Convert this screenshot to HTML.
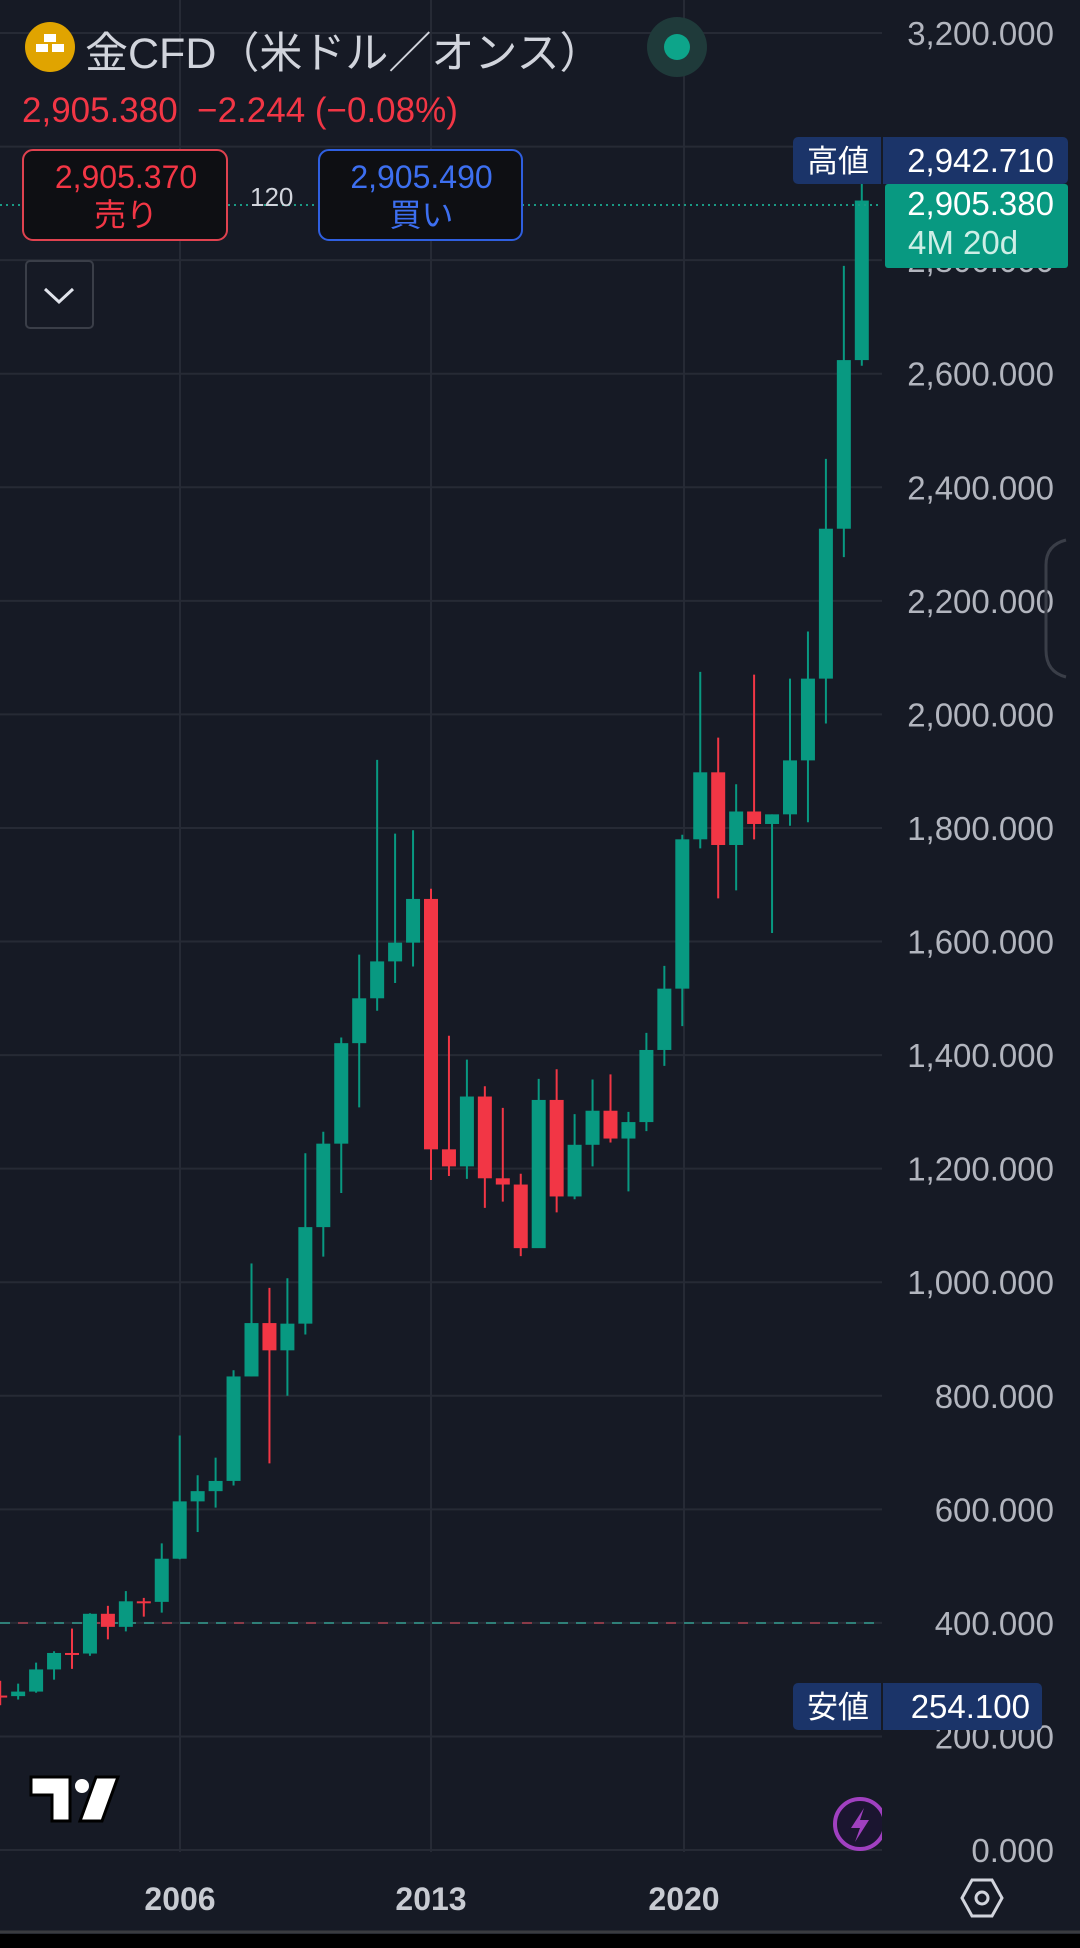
<!DOCTYPE html>
<html><head><meta charset="utf-8">
<style>
html,body{margin:0;padding:0;background:#161a25;}
body{width:1080px;height:1948px;position:relative;overflow:hidden;font-family:"Liberation Sans","Noto Sans CJK JP",sans-serif;}
.t{position:absolute;white-space:nowrap;}
</style></head>
<body>
<svg id="s" width="1080" height="1948" style="position:absolute;left:0;top:0">
<g id="grid" stroke="#262a35" stroke-width="2"></g>
<line x1="0" y1="1623" x2="882" y2="1623" stroke="#2f7f78" stroke-width="2" stroke-dasharray="10 8"/>
<line x1="0" y1="1623" x2="882" y2="1623" stroke="#8a3a48" stroke-width="2" stroke-dasharray="10 62" stroke-dashoffset="-18"/>
<g id="c"></g>
<line x1="0" y1="205" x2="882" y2="205" stroke="#1a9a85" stroke-width="2" stroke-dasharray="2 4"/>
<g id="ax" font-size="33" fill="#b2b5be" text-anchor="end" font-family="Liberation Sans, sans-serif"></g>
<rect x="793" y="137" width="275" height="47" rx="5" fill="#1b3469"/>
<rect x="881" y="137" width="2" height="47" fill="#161a25"/>
<text x="838" y="172" font-size="31" fill="#fff" text-anchor="middle" font-family="Liberation Sans, Noto Sans CJK JP, sans-serif">高値</text>
<text x="1054" y="172" font-size="33" fill="#fff" text-anchor="end" font-family="Liberation Sans, sans-serif">2,942.710</text>
<rect x="885" y="184" width="183" height="84" rx="3" fill="#089981"/>
<text x="1054" y="215" font-size="33" fill="#fff" text-anchor="end" font-family="Liberation Sans, sans-serif">2,905.380</text>
<text x="908" y="254" font-size="33" fill="#cdeee6" font-family="Liberation Sans, sans-serif">4M 20d</text>
<rect x="793" y="1683" width="249" height="47" rx="5" fill="#1b3469"/>
<rect x="881" y="1683" width="2" height="47" fill="#161a25"/>
<text x="838" y="1718" font-size="31" fill="#fff" text-anchor="middle" font-family="Liberation Sans, Noto Sans CJK JP, sans-serif">安値</text>
<text x="1030" y="1718" font-size="33" fill="#fff" text-anchor="end" font-family="Liberation Sans, sans-serif">254.100</text>
<path d="M1066 540 Q1046 545 1046 565 L1046 650 Q1046 672 1066 677" fill="none" stroke="#3a3e48" stroke-width="3"/>
<circle cx="677" cy="47" r="30" fill="#1f3a3a"/>
<circle cx="677" cy="47" r="13" fill="#0da58a"/>
<circle cx="50" cy="47" r="25" fill="#e0a400"/>
<rect x="44" y="34" width="12" height="8" fill="#fff"/>
<rect x="36" y="44" width="12" height="8" fill="#fff"/>
<rect x="52" y="44" width="12" height="8" fill="#fff"/>
<rect x="23" y="150" width="204" height="90" rx="10" fill="#0e0f13" stroke="#e0424f" stroke-width="2"/>
<rect x="319" y="150" width="203" height="90" rx="10" fill="#0e0f13" stroke="#2f5fe0" stroke-width="2"/>
<rect x="26" y="261" width="67" height="67" rx="4" fill="none" stroke="#3a3e48" stroke-width="2"/>
<path d="M45 289 L59 302 L73 289" fill="none" stroke="#e0e3eb" stroke-width="3"/>
<path d="M31 1777 H70 V1821 H52 V1795 H31 Z" fill="#fff" stroke="#000" stroke-width="3"/>
<circle cx="82" cy="1786" r="7" fill="#fff"/>
<path d="M96 1777 H118 L102 1821 H80 Z" fill="#fff" stroke="#000" stroke-width="3"/>
<clipPath id="cp"><rect x="0" y="0" width="882" height="1852"/></clipPath>
<g clip-path="url(#cp)">
<circle cx="860" cy="1824" r="25" fill="#1b1530" stroke="#a040c0" stroke-width="4"/>
<path d="M864 1808 L851 1828 H860 L855 1842 L869 1820 H860 Z" fill="#a040c0"/>
</g>
<path d="M972 1880 H992 L1002 1898 L992 1916 H972 L962 1898 Z" fill="none" stroke="#d1d4dc" stroke-width="3"/>
<circle cx="982" cy="1898" r="6" fill="none" stroke="#d1d4dc" stroke-width="3"/>
<line x1="0" y1="1932" x2="1080" y2="1932" stroke="#3a3c40" stroke-width="3"/>
<rect x="0" y="1934" width="1080" height="14" fill="#000"/>
<g font-size="32" fill="#c8cbd2" text-anchor="middle" font-family="Liberation Sans, sans-serif" font-weight="bold">
<text x="180" y="1910">2006</text><text x="431" y="1910">2013</text><text x="684" y="1910">2020</text>
</g>
</svg>
<div class="t" style="left:85px;top:19px;font-size:43px;color:#d1d4dc;">金CFD（米ドル／オンス）</div>
<div class="t" style="left:22px;top:91px;font-size:35px;color:#f23645;">2,905.380&nbsp; −2.244 (−0.08%)</div>
<div class="t" style="left:23px;top:158px;width:206px;text-align:center;font-size:32px;color:#f23645;line-height:38px;">2,905.370<br>売り</div>
<div class="t" style="left:250px;top:182px;font-size:26px;color:#d1d4dc;">120</div>
<div class="t" style="left:319px;top:158px;width:205px;text-align:center;font-size:32px;color:#3d6ff0;line-height:38px;">2,905.490<br>買い</div>
<script>
var NS="http://www.w3.org/2000/svg";
function el(p,n,a){var e=document.createElementNS(NS,n);for(var k in a)e.setAttribute(k,a[k]);p.appendChild(e);return e;}
function Y(v){return 1850-v*0.5678;}
var g=document.getElementById('grid'),ax=document.getElementById('ax');
for(var v=0;v<=3200;v+=200){var y=Y(v);el(g,'line',{x1:0,x2:882,y1:y,y2:y});
 if(v==3000)continue;
 var t=el(ax,'text',{x:1054,y:y+12});t.textContent=(v>=1000?Math.floor(v/1000)+","+String(v%1000).padStart(3,"0"):v)+".000";}
[180,431,684].forEach(function(x){el(g,'line',{x1:x,x2:x,y1:0,y2:1852});});
var d=[[272,271,298,255],[271,279,293,265],[279,318,330,277],[318,347,350,300],[347,346,390,319],[346,416,417,342],[416,393,430,371],[393,438,456,385],[438,437,444,411],[437,513,540,418],[513,614,730,512],[614,632,660,560],[632,650,691,603],[650,834,845,642],[834,928,1033,834],[928,880,990,681],[880,927,1007,800],[927,1097,1227,908],[1097,1244,1265,1045],[1244,1421,1431,1157],[1421,1500,1577,1308],[1500,1565,1920,1478],[1565,1598,1790,1527],[1598,1675,1796,1556],[1675,1234,1693,1180],[1234,1204,1434,1187],[1204,1327,1392,1182],[1327,1183,1345,1131],[1183,1172,1307,1142],[1172,1060,1191,1046],[1060,1321,1358,1062],[1321,1151,1375,1123],[1151,1242,1296,1146],[1242,1302,1357,1204],[1302,1253,1366,1246],[1253,1282,1300,1160],[1282,1409,1439,1266],[1409,1517,1557,1381],[1517,1780,1788,1451],[1780,1898,2075,1764],[1898,1770,1959,1676],[1770,1829,1877,1690],[1829,1807,2070,1780],[1807,1824,1824,1615],[1824,1919,2063,1804],[1919,2063,2146,1810],[2063,2327,2450,1984],[2327,2624,2790,2277],[2624,2905,2942,2614]];
var c=document.getElementById('c');
d.forEach(function(k,i){var x=431+(2001+i*0.5-2013)*35.9;var col=k[1]>=k[0]?"#089981":"#f23645";
 el(c,'line',{x1:x,x2:x,y1:Y(k[2]),y2:Y(k[3]),stroke:col,"stroke-width":2});
 var a=Y(Math.max(k[0],k[1])),b=Y(Math.min(k[0],k[1]));el(c,'rect',{x:x-7,y:a,width:14,height:Math.max(2,b-a),fill:col});});
</script>
</body></html>
